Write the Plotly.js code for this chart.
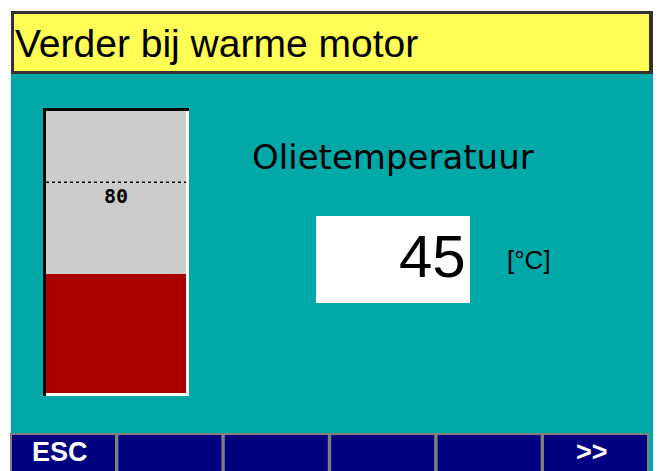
<!DOCTYPE html>
<html>
<head>
<meta charset="utf-8">
<script src="https://cdn.plot.ly/plotly-3.0.1.min.js"></script>
<style>html,body{margin:0;padding:0;background:#fff;}#chart{width:659px;height:471px;}</style>
</head>
<body>
<div id="chart"></div>
<script>
// ---- data ----
const headerText = "Verder bij warme motor";
const gaugeTitle = "Olietemperatuur";
const gaugeCategory = ["Olie"];
const gaugeValue = [45];
const limitValue = 80;
const scaleMin = 0;
const scaleMax = 107;
const unitText = "[°C]";
const buttonLabels = ["ESC", "", "", "", "", ">>"];

// ---- helpers (pixel -> paper) ----
const W = 659, H = 471;
const px = x => x / W;
const py = y => 1 - y / H;

const shapes = [];
const annotations = [];
function rect(x0, y0, x1, y1, fill, line) {
  shapes.push({type: "rect", xref: "paper", yref: "paper",
    x0: px(x0), x1: px(x1), y0: py(y1), y1: py(y0),
    fillcolor: fill, line: line || {width: 0}, layer: "above"});
}

// white margins around the teal screen
rect(0, 0, 11, H, "#ffffff");
rect(0, 0, W, 11, "#ffffff");
rect(653, 0, W, H, "#ffffff");

// header bar
rect(11, 11, 653, 74, "#333333");
rect(14, 14, 649, 71, "#ffff55");
annotations.push({xref: "paper", yref: "paper", x: px(13), y: py(44),
  xanchor: "left", yanchor: "middle", showarrow: false, text: headerText,
  font: {family: "Liberation Sans", size: 39, color: "#000000"}});

// gauge frame (sunken look)
rect(43, 108, 46, 396, "#000000");
rect(43, 108, 189, 111, "#000000");
rect(186, 111, 189, 396, "#ffffff");
rect(46, 393, 189, 396, "#ffffff");

// limit line + label
shapes.push({type: "line", xref: "x domain", yref: "y", x0: 0, x1: 1,
  y0: limitValue, y1: limitValue, line: {color: "#000000", width: 1.5, dash: "3px,3px"}, layer: "above"});
annotations.push({xref: "x domain", yref: "y", x: 0.5, y: limitValue, yshift: 0,
  xanchor: "center", yanchor: "top", showarrow: false, text: String(limitValue),
  font: {family: "DejaVu Sans Mono", size: 20, color: "#000000", weight: "bold"}});

// title
annotations.push({xref: "paper", yref: "paper", x: px(250), y: py(157),
  xanchor: "left", yanchor: "middle", showarrow: false, text: gaugeTitle,
  font: {family: "DejaVu Sans", size: 34, color: "#000000"}});

// value box
rect(316, 216, 470, 303, "#ffffff");
annotations.push({xref: "paper", yref: "paper", x: px(468), y: py(256),
  xanchor: "right", yanchor: "middle", showarrow: false, text: String(gaugeValue[0]),
  font: {family: "Liberation Sans", size: 60, color: "#000000", weight: 300}});
annotations.push({xref: "paper", yref: "paper", x: px(505), y: py(260),
  xanchor: "left", yanchor: "middle", showarrow: false, text: unitText,
  font: {family: "Liberation Sans", size: 26, color: "#000000"}});

// soft-key buttons
buttonLabels.forEach((lab, i) => {
  const x0 = 11 + i * 106.4, x1 = x0 + 105;
  rect(x0, 434, x1, 474, "#000080", {color: "#7f7f7f", width: 2});
  if (lab) {
    annotations.push({xref: "paper", yref: "paper", x: px((x0 + x1) / 2 - 4), y: py(452),
      xanchor: "center", yanchor: "middle", showarrow: false, text: lab,
      font: {family: "Liberation Sans", size: 27, color: "#ffffff", weight: "bold"}});
  }
});

const data = [{
  type: "bar", x: gaugeCategory, y: gaugeValue, width: 1,
  marker: {color: "#aa0000", line: {width: 0}}, hoverinfo: "skip"
}];

const layout = {
  width: W, height: H,
  margin: {l: 0, r: 0, t: 0, b: 0, pad: 0},
  paper_bgcolor: "#00a8a8",
  plot_bgcolor: "#cccccc",
  showlegend: false,
  bargap: 0,
  xaxis: {domain: [px(46), px(186)], range: [-0.5, 0.5], visible: false, fixedrange: true, type: "category"},
  yaxis: {domain: [py(393), py(111)], range: [scaleMin, scaleMax], visible: false, fixedrange: true},
  shapes: shapes,
  annotations: annotations
};

Plotly.newPlot("chart", data, layout, {displayModeBar: false, staticPlot: true});
</script>
</body>
</html>
